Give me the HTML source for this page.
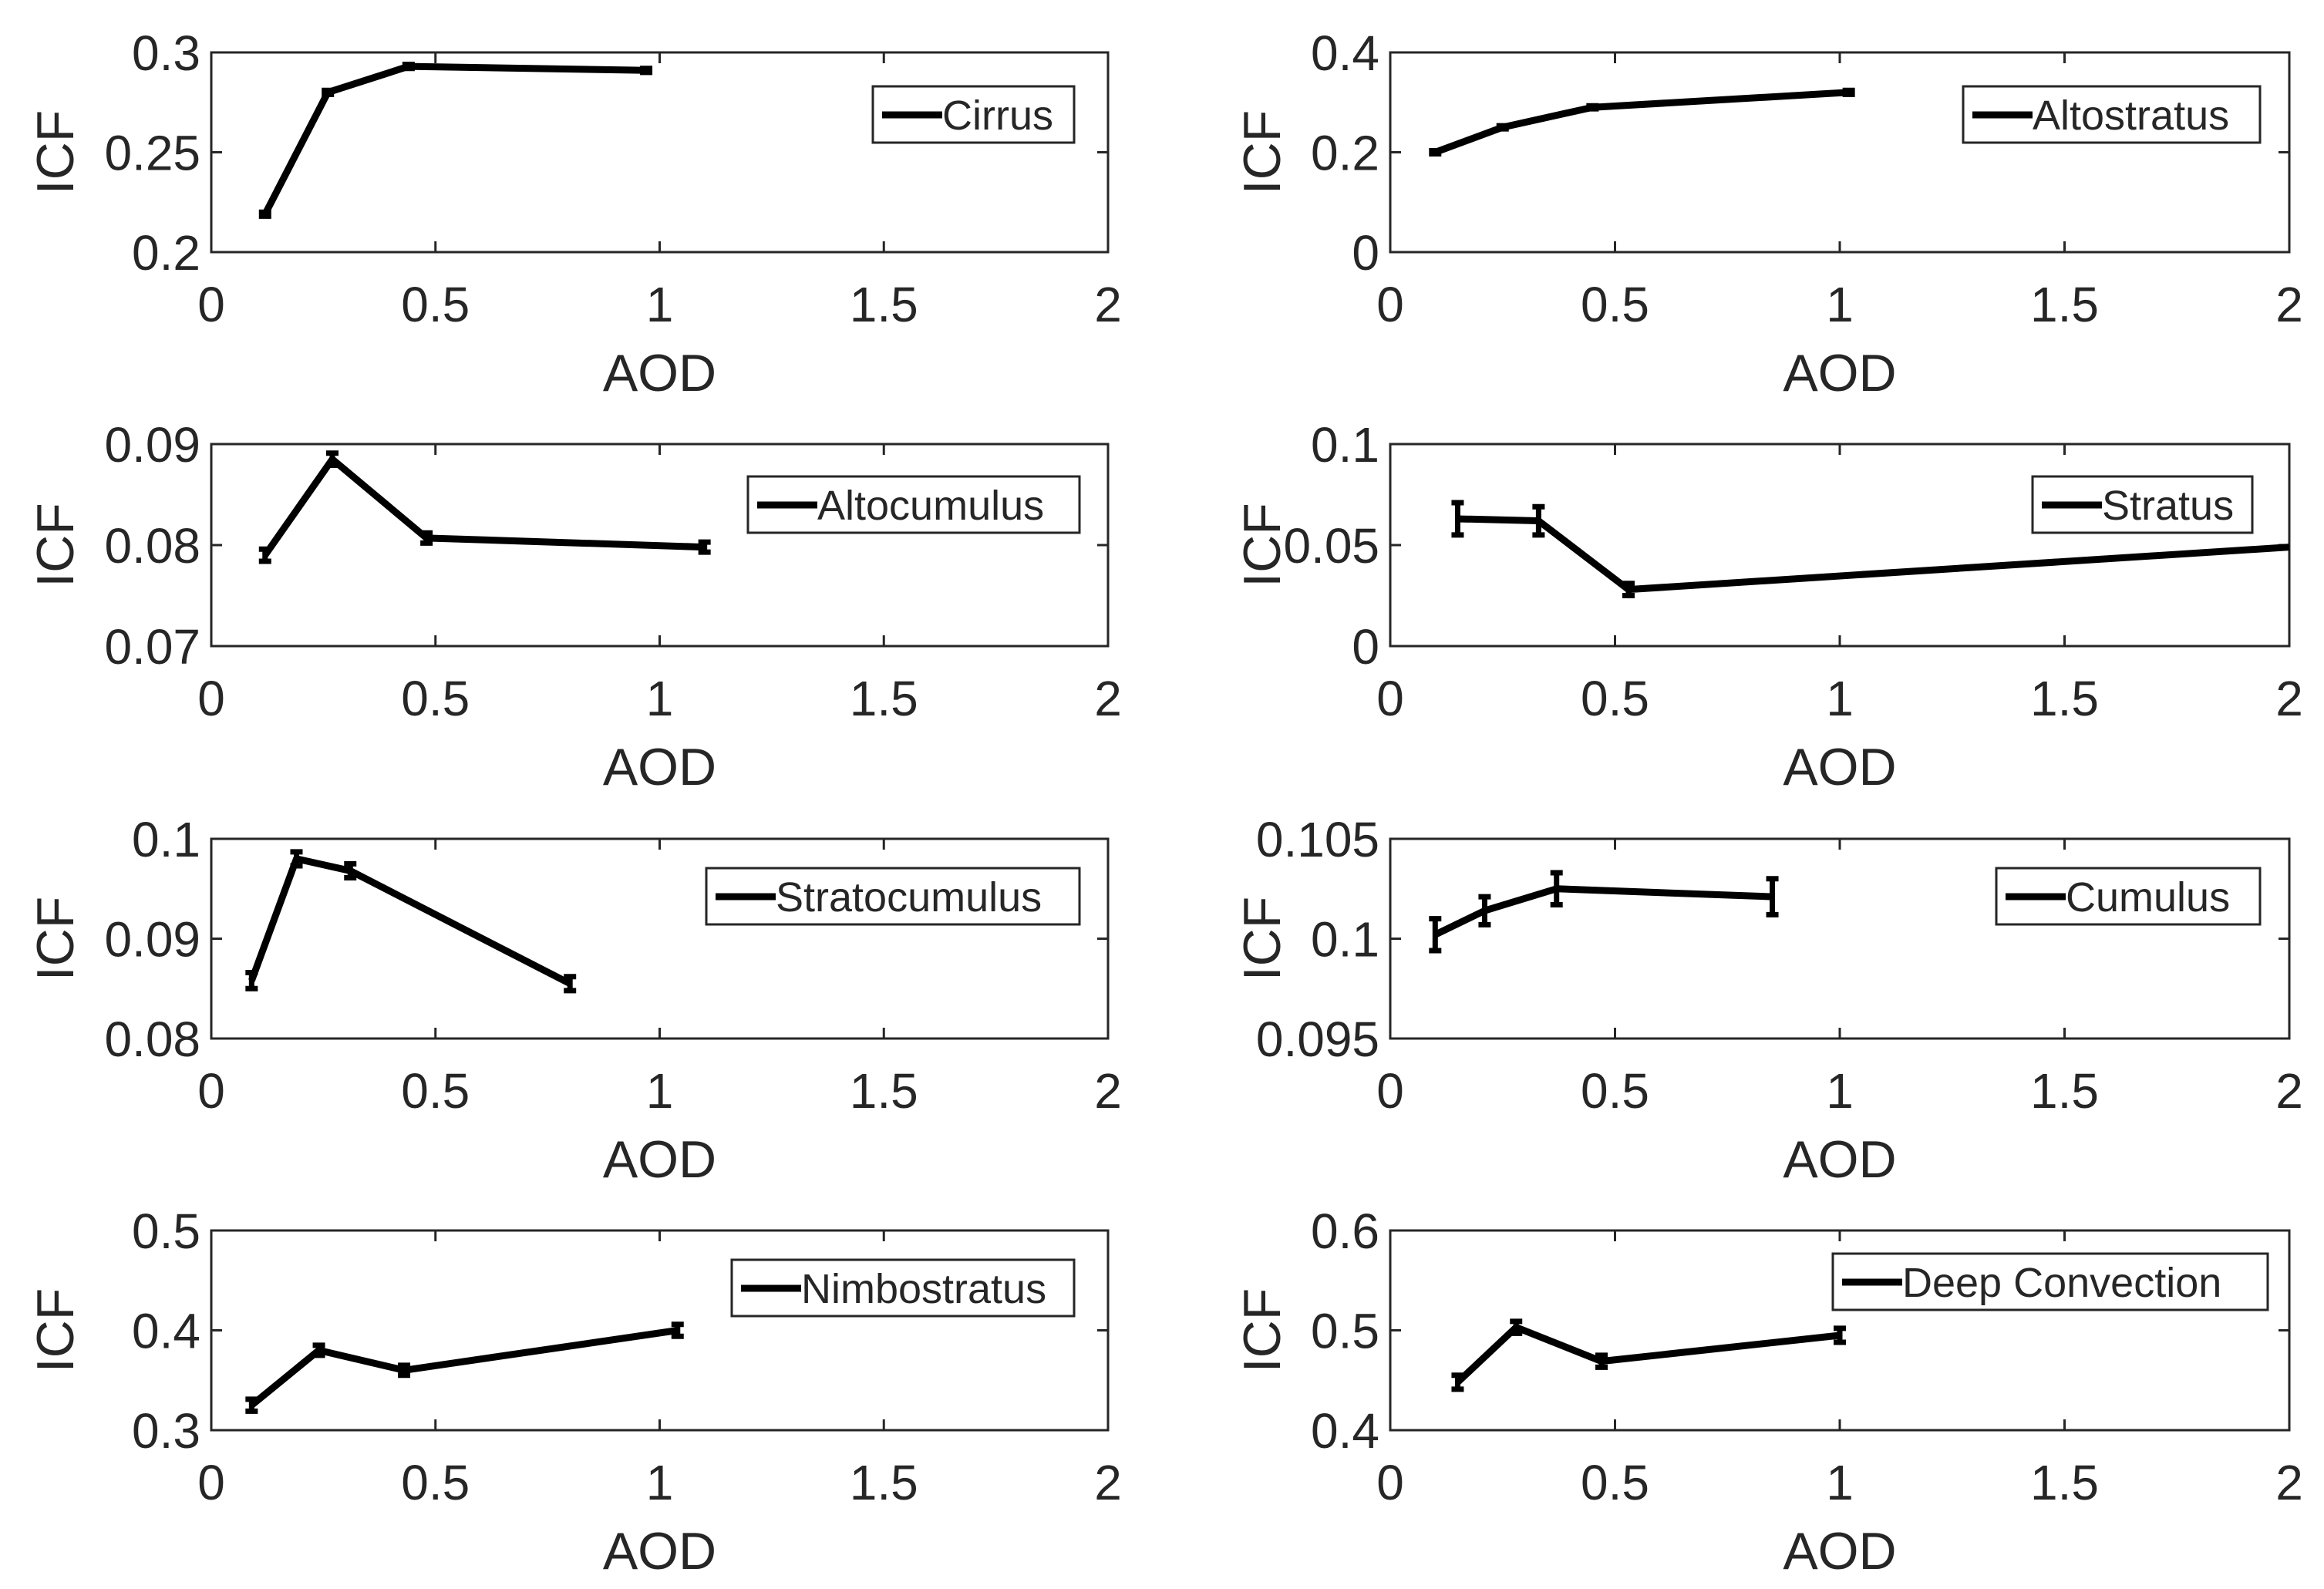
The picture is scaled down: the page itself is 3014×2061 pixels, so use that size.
<!DOCTYPE html>
<html><head><meta charset="utf-8"><style>
html,body{margin:0;padding:0;background:#fff}
svg{display:block}
text{font-family:"Liberation Sans",Arial,sans-serif;fill:#262626}
</style></head><body>
<svg id="fig" width="3014" height="2061" viewBox="0 0 3014 2061"></svg>
<script>
const names=["Cirrus","Altostratus","Altocumulus","Stratus","Stratocumulus","Cumulus","Nimbostratus","Deep Convection"];
const xVals=[[0.12,0.26,0.44,0.97],[0.1,0.25,0.45,1.02],[0.12,0.27,0.48,1.1],[0.15,0.33,0.53,2.0],[0.09,0.19,0.31,0.8],[0.1,0.21,0.37,0.85],[0.09,0.24,0.43,1.04],[0.15,0.28,0.47,1.0]];
const yVals=[[0.219,0.280,0.293,0.291],[0.2,0.25,0.29,0.32],[0.079,0.0885,0.0807,0.0798],[0.063,0.062,0.028,0.049],[0.0858,0.098,0.0968,0.0855],[0.1002,0.1014,0.1025,0.1021],[0.325,0.38,0.36,0.40],[0.448,0.503,0.469,0.495]];
const errVals=[[0.001,0.001,0.001,0.001],[0.003,0.003,0.003,0.004],[0.0006,0.0006,0.0005,0.0005],[0.008,0.007,0.003,0],[0.0008,0.0007,0.0007,0.0007],[0.0008,0.0007,0.0008,0.0009],[0.006,0.005,0.005,0.006],[0.007,0.006,0.006,0.007]];
const yTicks=[[0.2,0.25,0.3],[0,0.2,0.4],[0.07,0.08,0.09],[0,0.05,0.1],[0.08,0.09,0.1],[0.095,0.1,0.105],[0.3,0.4,0.5],[0.4,0.5,0.6]];
const yTickLabels=[["0.2","0.25","0.3"],["0","0.2","0.4"],["0.07","0.08","0.09"],["0","0.05","0.1"],["0.08","0.09","0.1"],["0.095","0.1","0.105"],["0.3","0.4","0.5"],["0.4","0.5","0.6"]];
const xTicks=[0,0.5,1,1.5,2];
const xTickLabels=["0","0.5","1","1.5","2"];
const legendLeft=[1132,2546,970,2636,916,2589,949,2377];
const legendRight=[1393,2931,1400,2921,1400,2931,1393,2941];

const NS="http://www.w3.org/2000/svg";
const svg=document.getElementById('fig');
function mk(t,a,p){const e=document.createElementNS(NS,t);for(const k in a)e.setAttribute(k,a[k]);(p||svg).appendChild(e);return e;}
const colL=[274,1803],colR=[1437,2969];
const rowT=[68,576,1088,1596],rowB=[327,838,1347,1855];
const legT=[112,618,1126,1634];
for(let i=0;i<8;i++){
  const c=i%2,r=Math.floor(i/2);
  const L=colL[c],R=colR[c],T=rowT[r],B=rowB[r];
  const y0=yTicks[i][0],y1=yTicks[i][yTicks[i].length-1];
  const sx=v=>L+(v-0)/(2-0)*(R-L);
  const sy=v=>B-(v-y0)/(y1-y0)*(B-T);
  const g=mk('g',{});
  
  
  const box=mk('rect',{x:L,y:T,width:R-L,height:B-T,fill:'#fff',stroke:'#262626','stroke-width':3},g);
  
  
  xTicks.forEach((v,k)=>{
    const x=sx(v);
    mk('line',{x1:x,x2:x,y1:B,y2:B-14,stroke:'#262626','stroke-width':3},g);
    mk('line',{x1:x,x2:x,y1:T,y2:T+14,stroke:'#262626','stroke-width':3},g);
    const t=mk('text',{x:x,y:B+90,'font-size':64,'text-anchor':'middle'},g);
    t.textContent=xTickLabels[k];
    
    
  });
  yTicks[i].forEach((v,k)=>{
    const y=sy(v);
    mk('line',{x1:L,x2:L+14,y1:y,y2:y,stroke:'#262626','stroke-width':3},g);
    mk('line',{x1:R,x2:R-14,y1:y,y2:y,stroke:'#262626','stroke-width':3},g);
    const t=mk('text',{x:L-14,y:y+23,'font-size':64,'text-anchor':'end'},g);
    t.textContent=yTickLabels[i][k];
    
    
  });
  const xl=mk('text',{x:(L+R)/2,y:B+180,'font-size':68,'text-anchor':'middle'},g);
  xl.textContent='AOD';
  
  
  const yx=c===0?95:1660;
  const yl=mk('text',{x:yx,y:(T+B)/2,'font-size':68,'text-anchor':'middle',transform:`rotate(-90 ${yx} ${(T+B)/2})`},g);
  yl.textContent='ICF';
  
  
  const cid='clip'+i;
  const cp=mk('clipPath',{id:cid},g);mk('rect',{x:L,y:T-20,width:R-L,height:B-T+40},cp);
  const pts=xVals[i].map((x,k)=>sx(x)+','+sy(yVals[i][k])).join(' ');
  const pl=mk('polyline',{points:pts,fill:'none',stroke:'#000','stroke-width':9,'stroke-linejoin':'round','clip-path':`url(#${cid})`},g);
  
  
  xVals[i].forEach((x,k)=>{
    const e=errVals[i][k];if(!e)return;
    const px=sx(x),ya=sy(yVals[i][k]+e),yb=sy(yVals[i][k]-e);
    const eb=mk('path',{d:`M${px},${ya}V${yb}M${px-8},${ya}H${px+8}M${px-8},${yb}H${px+8}`,stroke:'#000','stroke-width':7,fill:'none'},g);
    
    
  });
  const lt=legT[r]-(i===7?8:0);
  const lg=mk('g',{},g);
  
  
  mk('rect',{x:legendLeft[i],y:lt,width:legendRight[i]-legendLeft[i],height:73,fill:'#fff',stroke:'#262626','stroke-width':3},lg);
  mk('line',{x1:legendLeft[i]+12,x2:legendLeft[i]+90,y1:lt+37,y2:lt+37,stroke:'#000','stroke-width':9},lg);
  const lt2=mk('text',{x:legendLeft[i]+90,y:lt+56,'font-size':54},lg);
  lt2.textContent=names[i];
  
  
}
</script>
</body></html>
